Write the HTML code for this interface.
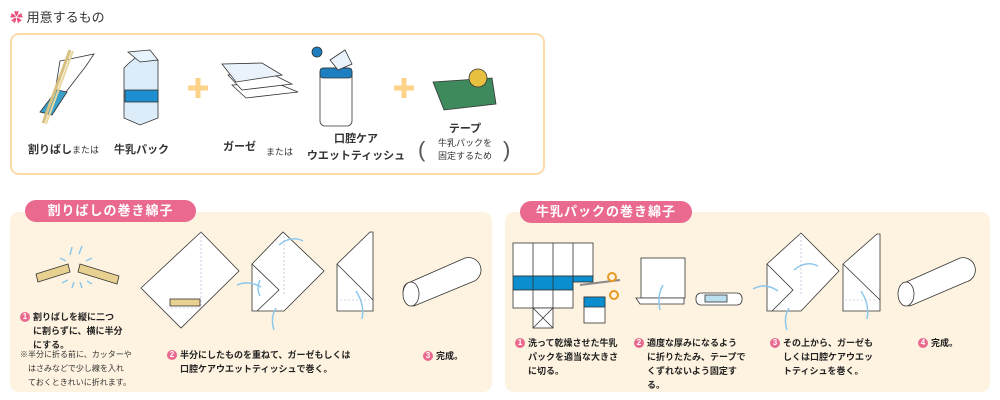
<!DOCTYPE html>
<html><head><meta charset="utf-8">
<style>
*{margin:0;padding:0;box-sizing:border-box}
body{width:1000px;height:400px;background:#fff;position:relative;overflow:hidden;font-family:"Liberation Sans","Noto Sans CJK JP",sans-serif;color:#333}
.a{position:absolute;white-space:nowrap}
.box{position:absolute;left:10px;top:33px;width:535px;height:142px;border:2px solid #fbdca8;border-radius:9px}
.panel{position:absolute;top:212px;height:180px;background:#fef3e0;border-radius:9px}
.pill{position:absolute;height:22px;background:#e9698f;border-radius:11px;color:#fff;font-size:13px;font-weight:bold;text-align:center;line-height:22px;letter-spacing:1px}
.s{font-size:9px;line-height:14px;color:#222;font-weight:bold}
.n{display:inline-block;width:10px;height:10px;border-radius:5px;background:#e9698f;color:#fff;font-size:8px;line-height:10px;text-align:center;font-weight:bold;margin-right:3px;vertical-align:1px}
.l{font-size:11px;font-weight:bold}
svg{position:absolute;left:0;top:0}
</style></head><body>
<div class="a" style="left:10px;top:7px;font-size:13px;color:#333"><span style="color:#e9507c">✿</span> 用意するもの</div>
<div class="box"></div>
<div class="panel" style="left:10px;width:482px"></div>
<div class="panel" style="left:505px;width:485px"></div>
<div class="pill" style="left:25px;top:200px;width:171px">割りばしの巻き綿子</div>
<div class="pill" style="left:520px;top:201px;width:172px">牛乳パックの巻き綿子</div>

<svg width="1000" height="400" viewBox="0 0 1000 400">
<g stroke="#333" stroke-width="0.8">
<!-- chopsticks -->
<polygon points="60,61 94,54 86,66 52,110" fill="#fff"/>
<polygon points="40,112 57,90 67,92 52,115" fill="#3ba0c8"/>
<line x1="70" y1="50" x2="43" y2="123" stroke="#d8c080" stroke-width="3"/>
<line x1="73" y1="51" x2="46" y2="124" stroke="#e8d8a0" stroke-width="2"/>
<!-- milk -->
<polygon points="128,64 140,54 158,60 158,118 140,125 124,118 124,68" fill="#dcecf8"/>
<rect x="125" y="90" width="33" height="12" fill="#1d8ed0"/>
<polygon points="128,52 150,50 158,60 140,62" fill="#e8f4fc"/>
<!-- plus -->
<path d="M198 78v20M188 88h20M404 78v20M394 88h20" stroke="#fdd38a" stroke-width="5"/>
<!-- gauze -->
<polygon points="232,85 276,83 298,92 246,98" fill="#fff"/>
<polygon points="228,75 270,73 292,84 242,90" fill="#fff"/>
<polygon points="222,64 262,63 282,75 236,82" fill="#eaf2fc"/>
<!-- tissue -->
<rect x="320" y="68" width="32" height="58" rx="5" fill="#fff"/>
<rect x="320" y="68" width="32" height="10" rx="3" fill="#1d7ec0"/>
<circle cx="317" cy="52" r="5" fill="#1d7ec0"/>
<polygon points="330,60 345,50 352,64 338,70" fill="#eaf2fc"/>
<!-- tape -->
<path d="M433 82 L492 78 L496 104 L444 110 Z" fill="#3f8a5c"/>
<circle cx="478" cy="78" r="9" fill="#e8c040"/>
<!-- left panel sticks -->
<polygon points="36,274 68,264 70,272 38,282" fill="#e8d090"/>
<polygon points="80,264 119,276 117,284 78,272" fill="#e8d090"/>
<!-- diamond 1 -->
<polygon points="141,288 201,232 239,271 181,328" fill="#fff"/>
<rect x="170" y="299" width="30" height="7" fill="#e8d090"/>
<!-- shape 2 -->
<polygon points="252,264 283,232 324,271 284,311 252,311" fill="#fff"/>
<polyline points="252,264 279,290 257,311" fill="none"/>
<!-- shape 3 -->
<polygon points="337,264 370,232 373,232 373,311 337,311" fill="#fff"/>
<polyline points="337,264 373,300" fill="none"/>
<!-- roll -->
<path d="M408 283 L465 258 A12 12 0 0 1 472 282 L414 306 A8 12 -20 0 1 408 283Z" fill="#fff"/>
<ellipse cx="411" cy="294" rx="8" ry="12" fill="#fff"/>
<!-- right pack net -->
<rect x="513" y="243" width="80" height="33" fill="#fff"/>
<rect x="513" y="276" width="60" height="14" fill="#0a8ed0"/>
<rect x="573" y="276" width="20" height="6" fill="#0a8ed0"/>
<rect x="513" y="290" width="60" height="18" fill="#fff"/>
<rect x="533" y="308" width="20" height="20" fill="#fff"/>
<path d="M533 243v65M553 243v65M573 243v47M533 308l20 20M553 308l-20 20" fill="none"/>
<rect x="584" y="297" width="21" height="26" fill="#fff"/>
<rect x="584" y="297" width="21" height="10" fill="#0a8ed0"/>
<path d="M580 285 L620 280" stroke="#888" stroke-width="2"/>
<circle cx="612" cy="277" r="4" fill="none" stroke="#e89a20" stroke-width="2"/>
<circle cx="614" cy="295" r="4" fill="none" stroke="#e89a20" stroke-width="2"/>
<!-- paper -->
<rect x="641" y="258" width="44" height="40" fill="#fff"/>
<path d="M636 298 L684 298 L684 304 L640 304 Z" fill="#fff"/>
<rect x="696" y="293" width="46" height="12" rx="5" fill="#fff"/>
<rect x="705" y="295" width="22" height="7" fill="#bde0f0"/>
<!-- right shape 2,3 -->
<polygon points="767,264 801,233 839,271 801,311 767,311" fill="#fff"/>
<polyline points="767,264 793,290 772,311" fill="none"/>
<polygon points="843,264 877,234 880,234 880,311 843,311" fill="#fff"/>
<polyline points="843,264 880,300" fill="none"/>
<path d="M904 283 L960 258 A12 12 0 0 1 966 282 L910 306 A8 12 -20 0 1 904 283Z" fill="#fff"/>
<ellipse cx="906" cy="294" rx="8" ry="12" fill="#fff"/>
</g>
<g stroke="#8cc8ec" stroke-width="1.5" fill="none">
<path d="M72 247l-2 8M82 246l-3 8M60 258l6 3M92 258l-6 3M62 283l6-3M72 288l2-6M82 288l-2-6M92 284l-5-3"/>
<path d="M237 285q12-5 24 2M303 241q-12-6-24 4M274 330q-4-12 2-22M260 296q-4-8 0-16"/>
<path d="M362 319q3-14-6-28"/>
<path d="M660 310q-3-15 3-25"/>
<path d="M753 289q12-7 25 2M818 266q-12-6-24 4M787 330q-4-12 2-22M867 319q3-14-6-28"/>
</g>
<g stroke="#aac" stroke-width="0.6" stroke-dasharray="2 2" fill="none">
<path d="M201 232v75M167 308h34M284 236v60M801 236v60M845 300h30M340 300h30"/>
</g>
</svg>

<div class="a l" style="left:28px;top:141px">割りばし<span style="font-size:9px;font-weight:normal">または</span></div>
<div class="a l" style="left:114px;top:141px">牛乳パック</div>
<div class="a l" style="left:223px;top:138px">ガーゼ</div>
<div class="a" style="left:266px;top:145px;font-size:9px">または</div>
<div class="a l" style="left:306px;top:131px;width:100px;text-align:center;line-height:17px">口腔ケア<br>ウエットティッシュ</div>
<div class="a l" style="left:430px;top:120px;width:70px;text-align:center">テープ</div>
<div class="a" style="left:420px;top:137px;width:90px;text-align:center;font-size:9px;line-height:13px">牛乳パックを<br>固定するため</div>
<div class="a" style="left:418px;top:137px;font-size:22px;color:#555;line-height:26px">(</div>
<div class="a" style="left:503px;top:137px;font-size:22px;color:#555;line-height:26px">)</div>

<div class="a s" style="left:20px;top:310px"><span class="n">1</span>割りばしを縦に二つ<br><span style="padding-left:13px">に割らずに、横に半分</span><br><span style="padding-left:13px">にする。</span></div>
<div class="a" style="left:20px;top:348px;font-size:8px;line-height:14px">※半分に折る前に、カッターや<br>　はさみなどで少し線を入れ<br>　ておくときれいに折れます。</div>
<div class="a s" style="left:167px;top:348px"><span class="n">2</span>半分にしたものを重ねて、ガーゼもしくは<br><span style="padding-left:13px">口腔ケアウエットティッシュで巻く。</span></div>
<div class="a s" style="left:423px;top:349px"><span class="n">3</span>完成。</div>

<div class="a s" style="left:515px;top:336px"><span class="n">1</span>洗って乾燥させた牛乳<br><span style="padding-left:13px">パックを適当な大きさ</span><br><span style="padding-left:13px">に切る。</span></div>
<div class="a s" style="left:634px;top:336px"><span class="n">2</span>適度な厚みになるよう<br><span style="padding-left:13px">に折りたたみ、テープで</span><br><span style="padding-left:13px">くずれないよう固定す</span><br><span style="padding-left:13px">る。</span></div>
<div class="a s" style="left:770px;top:336px"><span class="n">3</span>その上から、ガーゼも<br><span style="padding-left:13px">しくは口腔ケアウエッ</span><br><span style="padding-left:13px">トティシュを巻く。</span></div>
<div class="a s" style="left:918px;top:336px"><span class="n">4</span>完成。</div>
</body></html>
